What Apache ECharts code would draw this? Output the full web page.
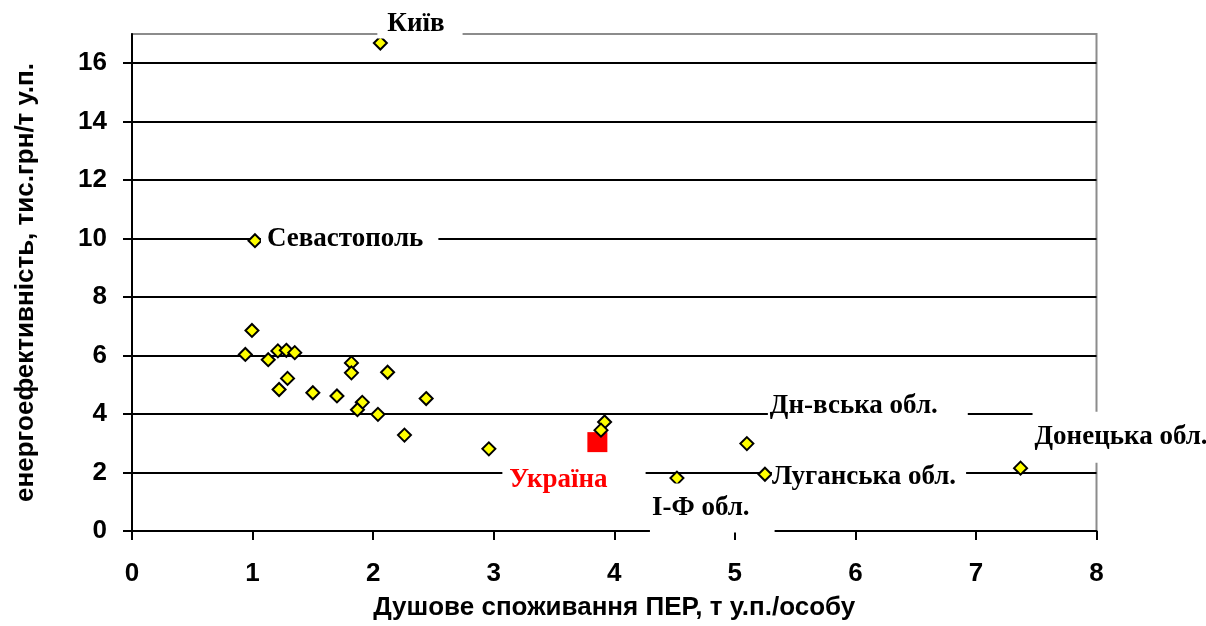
<!DOCTYPE html>
<html lang="uk">
<head>
<meta charset="UTF-8">
<title>Енергоефективність регіонів</title>
<script type="text/javascript" src="https://cdn.jsdelivr.net/npm/echarts@6/dist/echarts.min.js"></script>
<style>
html, body {margin:0; padding:0; background:#fff;}
#chart {width:1206px; height:626px;}
</style>
</head>
<body>
<div id="chart"></div>
<script type="text/javascript">
// області без підпису
var plainX = [0.995, 0.94, 1.13, 1.21, 1.28, 1.35, 1.29, 1.22, 1.50, 1.70, 1.82, 1.82, 2.12, 1.91, 1.87, 2.04, 2.44, 2.26, 2.96, 3.92, 3.89];
var plainY = [6.86, 6.04, 5.86, 6.16, 6.18, 6.10, 5.22, 4.84, 4.73, 4.62, 5.75, 5.41, 5.43, 4.40, 4.15, 3.99, 4.53, 3.28, 2.81, 3.73, 3.45];
// підписані точки
var namedLabels = ['Київ', 'Севастополь', 'І-Ф обл.', 'Дн-вська обл.', 'Луганська обл.', 'Донецька обл.'];
var namedX = [2.06, 1.02, 4.52, 5.10, 5.25, 7.37];
var namedY = [16.69, 9.93, 1.81, 2.99, 1.94, 2.15];
// середнє по країні
var ukraineLabel = 'Україна';
var ukraineX = [3.86];
var ukraineY = [3.04];
// осі
var xMin = 0, xMax = 8, xStep = 1;
var yMin = 0, yMax = 17, yStep = 2;
var xTitle = 'Душове споживання ПЕР, т у.п./особу';
var yTitle = 'енергоефективність, тис.грн/т у.п.';

// білі плашки підписів (як в Excel)
var labelBox = {
  'Київ': {offset: [-3, -19], padding: [2, 18, 0, 10]},
  'Севастополь': {offset: [6, -2], padding: [4, 15, 4, 6]},
  'І-Ф обл.': {offset: [-27, 30], padding: [3, 25, 19, 2]},
  'Дн-вська обл.': {offset: [21, -38], padding: [5, 30, 5, 2]},
  'Луганська обл.': {offset: [7, 3], padding: [4, 10, 4, 0]},
  'Донецька обл.': {offset: [12, -31], padding: [3, 2, 21, 2]}
};

var chart = echarts.init(document.getElementById('chart'));

var plainData = [];
for (var i = 0; i < plainX.length; i++) {
  plainData.push([plainX[i], plainY[i]]);
}
var namedData = [];
for (var j = 0; j < namedLabels.length; j++) {
  var box = labelBox[namedLabels[j]];
  namedData.push({
    name: namedLabels[j],
    value: [namedX[j], namedY[j]],
    label: {
      show: true,
      formatter: namedLabels[j],
      position: 'inside',
      align: 'left',
      verticalAlign: 'middle',
      offset: box.offset,
      padding: box.padding
    }
  });
}

var dotStyle = {color: '#ffff00', borderColor: '#000', borderWidth: 2, opacity: 1};
var serifLabel = {
  fontFamily: '"Liberation Serif", "Times New Roman", serif',
  fontWeight: 'bold',
  fontSize: 27,
  color: '#000',
  backgroundColor: '#fff',
  lineHeight: 27
};

var option = {
  animation: false,
  backgroundColor: '#fff',
  textStyle: {fontFamily: '"Liberation Sans", Arial, sans-serif'},
  grid: {
    left: 132, right: 109.5, top: 34, bottom: 90.5,
    show: true, borderColor: '#8c8c8c', borderWidth: 2, backgroundColor: 'transparent'
  },
  xAxis: {
    type: 'value',
    min: xMin, max: xMax, interval: xStep,
    name: xTitle,
    nameLocation: 'middle',
    nameGap: 64,
    nameTextStyle: {fontSize: 26, fontWeight: 'bold', color: '#000'},
    axisLine: {lineStyle: {color: '#000', width: 2}},
    axisTick: {show: true, inside: false, length: 9, lineStyle: {color: '#000', width: 2}},
    axisLabel: {fontSize: 26, fontWeight: 'bold', color: '#000', margin: 30},
    splitLine: {show: false}
  },
  yAxis: {
    type: 'value',
    min: yMin, max: yMax, interval: yStep,
    name: yTitle,
    nameLocation: 'middle',
    nameGap: 93,
    nameTextStyle: {fontSize: 26, fontWeight: 'bold', color: '#000'},
    axisLine: {show: true, lineStyle: {color: '#000', width: 2}},
    axisTick: {show: true, inside: false, length: 9, lineStyle: {color: '#000', width: 2}},
    axisLabel: {fontSize: 26, fontWeight: 'bold', color: '#000', margin: 25, showMaxLabel: false},
    splitLine: {
      show: true,
      showMaxLine: false,
      lineStyle: {color: ['#000', '#000', '#000', '#000', '#000', '#000', '#000', '#000', '#000', '#8c8c8c'], width: 2}
    }
  },
  series: [
    {
      name: ukraineLabel,
      type: 'scatter',
      symbol: 'rect',
      symbolSize: 20,
      itemStyle: {color: '#ff0000', opacity: 1},
      label: {
        show: true,
        formatter: ukraineLabel,
        position: 'inside',
        align: 'left',
        verticalAlign: 'middle',
        offset: [-95, 38],
        padding: [6, 38, 6, 7],
        fontFamily: serifLabel.fontFamily,
        fontWeight: 'bold',
        fontSize: 27,
        lineHeight: 27,
        color: '#ff0000',
        backgroundColor: '#fff'
      },
      data: [[ukraineX[0], ukraineY[0]]]
    },
    {
      name: 'області',
      type: 'scatter',
      symbol: 'diamond',
      symbolSize: 13,
      itemStyle: dotStyle,
      data: plainData
    },
    {
      name: 'підписані',
      type: 'scatter',
      symbol: 'diamond',
      symbolSize: 13,
      itemStyle: dotStyle,
      label: serifLabel,
      data: namedData
    }
  ]
};
chart.setOption(option);
</script>
</body>
</html>
